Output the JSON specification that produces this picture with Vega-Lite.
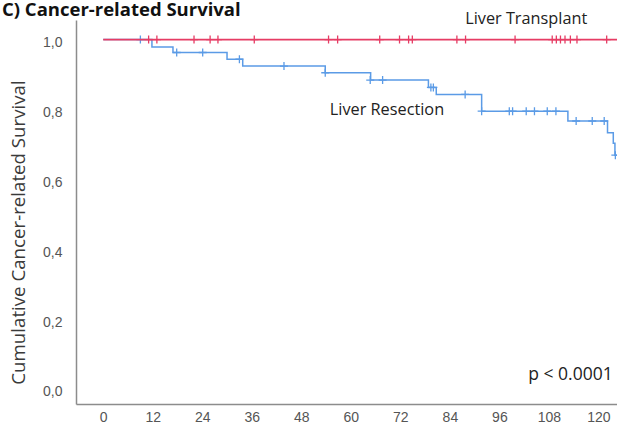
{
  "$schema": "https://vega.github.io/schema/vega-lite/v6.json",
  "autosize": "none",
  "width": 541,
  "height": 384,
  "padding": {"left": 76, "top": 20, "right": 0, "bottom": 26},
  "background": "white",
  "config": {"view": {"stroke": null}},
  "title": {
    "text": "C) Cancer-related Survival",
    "anchor": "start",
    "frame": "group",
    "orient": "top",
    "baseline": "alphabetic",
    "offset": -24,
    "dx": -74,
    "font": "Open Sans",
    "fontSize": 18.5,
    "fontWeight": "bold",
    "color": "#111"
  },
  "datasets": {
    "steps": [
      {"group": "Liver Resection", "time": 0, "surv": 1.0},
      {"group": "Liver Resection", "time": 11.8, "surv": 0.979},
      {"group": "Liver Resection", "time": 16.9, "surv": 0.963},
      {"group": "Liver Resection", "time": 30.0, "surv": 0.944},
      {"group": "Liver Resection", "time": 33.8, "surv": 0.924},
      {"group": "Liver Resection", "time": 53.8, "surv": 0.905},
      {"group": "Liver Resection", "time": 64.8, "surv": 0.884},
      {"group": "Liver Resection", "time": 78.8, "surv": 0.863},
      {"group": "Liver Resection", "time": 80.7, "surv": 0.843},
      {"group": "Liver Resection", "time": 91.7, "surv": 0.795},
      {"group": "Liver Resection", "time": 112.6, "surv": 0.767},
      {"group": "Liver Resection", "time": 122.2, "surv": 0.733},
      {"group": "Liver Resection", "time": 123.6, "surv": 0.703},
      {"group": "Liver Resection", "time": 124.0, "surv": 0.669},
      {"group": "Liver Resection", "time": 126.0, "surv": 0.669},
      {"group": "Liver Transplant", "time": 0, "surv": 1.0},
      {"group": "Liver Transplant", "time": 126.0, "surv": 1.0}
    ],
    "censors": [
      {"group": "Liver Resection", "time": 9.0, "surv": 1.0},
      {"group": "Liver Resection", "time": 17.8, "surv": 0.963},
      {"group": "Liver Resection", "time": 24.1, "surv": 0.963},
      {"group": "Liver Resection", "time": 33.0, "surv": 0.944},
      {"group": "Liver Resection", "time": 43.8, "surv": 0.924},
      {"group": "Liver Resection", "time": 53.8, "surv": 0.905},
      {"group": "Liver Resection", "time": 64.7, "surv": 0.884},
      {"group": "Liver Resection", "time": 67.7, "surv": 0.884},
      {"group": "Liver Resection", "time": 79.4, "surv": 0.863},
      {"group": "Liver Resection", "time": 80.0, "surv": 0.863},
      {"group": "Liver Resection", "time": 87.7, "surv": 0.843},
      {"group": "Liver Resection", "time": 91.7, "surv": 0.795},
      {"group": "Liver Resection", "time": 98.4, "surv": 0.795},
      {"group": "Liver Resection", "time": 99.2, "surv": 0.795},
      {"group": "Liver Resection", "time": 102.5, "surv": 0.795},
      {"group": "Liver Resection", "time": 104.5, "surv": 0.795},
      {"group": "Liver Resection", "time": 107.6, "surv": 0.795},
      {"group": "Liver Resection", "time": 109.7, "surv": 0.795},
      {"group": "Liver Resection", "time": 114.6, "surv": 0.767},
      {"group": "Liver Resection", "time": 118.5, "surv": 0.767},
      {"group": "Liver Resection", "time": 121.4, "surv": 0.767},
      {"group": "Liver Resection", "time": 124.1, "surv": 0.669},
      {"group": "Liver Transplant", "time": 11.0, "surv": 1.0},
      {"group": "Liver Transplant", "time": 13.0, "surv": 1.0},
      {"group": "Liver Transplant", "time": 22.0, "surv": 1.0},
      {"group": "Liver Transplant", "time": 25.9, "surv": 1.0},
      {"group": "Liver Transplant", "time": 27.8, "surv": 1.0},
      {"group": "Liver Transplant", "time": 36.6, "surv": 1.0},
      {"group": "Liver Transplant", "time": 54.6, "surv": 1.0},
      {"group": "Liver Transplant", "time": 56.8, "surv": 1.0},
      {"group": "Liver Transplant", "time": 67.0, "surv": 1.0},
      {"group": "Liver Transplant", "time": 71.8, "surv": 1.0},
      {"group": "Liver Transplant", "time": 74.0, "surv": 1.0},
      {"group": "Liver Transplant", "time": 74.9, "surv": 1.0},
      {"group": "Liver Transplant", "time": 85.7, "surv": 1.0},
      {"group": "Liver Transplant", "time": 87.8, "surv": 1.0},
      {"group": "Liver Transplant", "time": 99.8, "surv": 1.0},
      {"group": "Liver Transplant", "time": 108.8, "surv": 1.0},
      {"group": "Liver Transplant", "time": 109.8, "surv": 1.0},
      {"group": "Liver Transplant", "time": 110.8, "surv": 1.0},
      {"group": "Liver Transplant", "time": 111.9, "surv": 1.0},
      {"group": "Liver Transplant", "time": 113.2, "surv": 1.0},
      {"group": "Liver Transplant", "time": 114.8, "surv": 1.0},
      {"group": "Liver Transplant", "time": 122.0, "surv": 1.0}
    ],
    "labels": [
      {"label": "Liver Transplant", "kind": "group", "time": 87.7, "surv": 1.0446},
      {"label": "Liver Resection", "kind": "group", "time": 54.9, "surv": 0.784},
      {"label": "p < 0.0001", "kind": "p", "time": 103.0, "surv": 0.027}
    ]
  },
  "encoding": {
    "x": {
      "field": "time",
      "type": "quantitative",
      "scale": {"domain": [-6.6, 124.5], "nice": false, "zero": false},
      "axis": {
        "values": [0, 12, 24, 36, 48, 60, 72, 84, 96, 108, 120],
        "title": null,
        "grid": false,
        "ticks": false,
        "tickSize": 0,
        "labelPadding": 6,
        "labelFont": "Liberation Sans",
        "labelFontSize": 14,
        "labelColor": "#555555",
        "domainColor": "#8c8c8c",
        "domainWidth": 1.5
      }
    },
    "y": {
      "field": "surv",
      "type": "quantitative",
      "scale": {"domain": [-0.043, 1.056], "nice": false, "zero": false},
      "axis": {
        "values": [0, 0.2, 0.4, 0.6, 0.8, 1.0],
        "labelExpr": "replace(format(datum.value, '.1f'), '.', ',')",
        "title": "Cumulative Cancer-related Survival",
        "titleFont": "Open Sans",
        "titleFontSize": 18.7,
        "titleFontWeight": "normal",
        "titleColor": "#3a3a3a",
        "titlePadding": 14,
        "titleY": 212,
        "grid": false,
        "ticks": false,
        "tickSize": 0,
        "labelPadding": 14,
        "labelOffset": 3,
        "labelFont": "Liberation Sans",
        "labelFontSize": 14,
        "labelColor": "#555555",
        "domainColor": "#8c8c8c",
        "domainWidth": 1.5
      }
    }
  },
  "layer": [
    {
      "data": {"name": "steps"},
      "transform": [{"filter": "datum.group === 'Liver Resection'"}],
      "mark": {"type": "line", "interpolate": "step-after", "color": "#5b9be6", "strokeWidth": 1.5, "clip": true},
      "encoding": {}
    },
    {
      "data": {"name": "censors"},
      "transform": [{"filter": "datum.group === 'Liver Resection'"}],
      "mark": {"type": "point", "shape": "M0,-1V1M-1,0H1", "size": 64, "filled": false, "color": "#5b9be6", "strokeWidth": 1.3, "opacity": 1, "clip": true},
      "encoding": {}
    },
    {
      "data": {"name": "steps"},
      "transform": [{"filter": "datum.group === 'Liver Transplant'"}],
      "mark": {"type": "line", "interpolate": "step-after", "color": "#e63c64", "strokeWidth": 1.7, "clip": true},
      "encoding": {}
    },
    {
      "data": {"name": "censors"},
      "transform": [{"filter": "datum.group === 'Liver Transplant'"}],
      "mark": {"type": "point", "shape": "M0,-1V1M-1,0H1", "size": 64, "filled": false, "color": "#e63c64", "strokeWidth": 1.3, "opacity": 1, "clip": true},
      "encoding": {}
    },
    {
      "data": {"name": "labels"},
      "transform": [{"filter": "datum.kind === 'group'"}],
      "mark": {"type": "text", "align": "left", "baseline": "alphabetic", "font": "Open Sans", "fontSize": 16.3, "color": "#222222"},
      "encoding": {"text": {"field": "label", "type": "nominal"}}
    },
    {
      "data": {"name": "labels"},
      "transform": [{"filter": "datum.kind === 'p'"}],
      "mark": {"type": "text", "align": "left", "baseline": "alphabetic", "font": "Open Sans", "fontSize": 17.5, "color": "#222222"},
      "encoding": {"text": {"field": "label", "type": "nominal"}}
    }
  ]
}
